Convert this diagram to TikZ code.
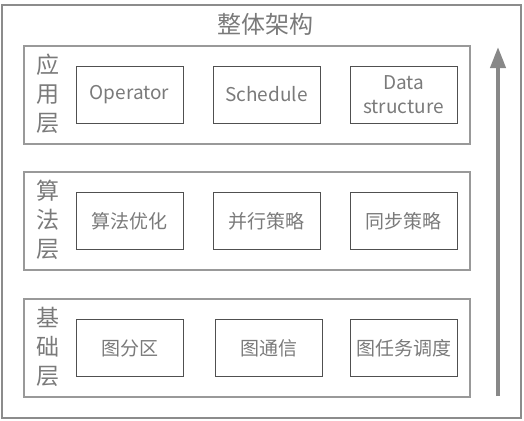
\documentclass[tikz,border=0pt]{standalone}
\usepackage{fontspec}
\setmainfont{Noto Sans CJK SC}
\usetikzlibrary{arrows.meta}
\definecolor{framegray}{HTML}{8C8C8C}
\definecolor{layergray}{HTML}{999999}
\definecolor{itemgray}{HTML}{505050}
\definecolor{textgray}{HTML}{7A7A7A}
\definecolor{arrowgray}{HTML}{888888}

\begin{document}
\begin{tikzpicture}[x=1pt,y=-1pt,
    layerbox/.style={draw=layergray,line width=1.6pt,minimum width=446pt,minimum height=98pt,inner sep=0pt},
    itembox/.style={draw=itemgray,line width=0.9pt,minimum width=107pt,minimum height=57pt,inner sep=0pt,
      font=\fontsize{19}{24}\selectfont,text=textgray,align=center},
    layertext/.style={font=\fontsize{23}{29}\selectfont,text=textgray,align=center,inner sep=0pt}]
            \useasboundingbox (0,0) rectangle (524,420);

            % outer frame and title
            \node[draw=framegray,line width=1.4pt,minimum width=519pt,minimum height=413pt,inner sep=0pt] (frame) at (261.5,211.5) {};
            \node[font=\fontsize{24}{28}\selectfont,text=textgray] (title) at (265,24) {整体架构};

            % layers
            \node[layerbox] (app) at (247,95) {};
            \node[layerbox] (algo) at (247,221) {};
            \node[layerbox] (base) at (247,348) {};

            \node[layertext] (applabel) at (48,94) {应\\用\\层};
            \node[layertext] (algolabel) at (48,220) {算\\法\\层};
            \node[layertext] (baselabel) at (48,347) {基\\础\\层};

            % application layer
            \node[itembox] (operator) at (129.5,94.5) {Operator};
            \node[itembox] (schedule) at (266.5,94.5) {Schedule};
            \node[itembox] (datastruct) at (403.5,94.5) {Data\\structure};

            % algorithm layer
            \node[itembox] (algoopt) at (129.5,221) {算法优化};
            \node[itembox] (parallel) at (266.5,221) {并行策略};
            \node[itembox] (sync) at (403.5,221) {同步策略};

            % base layer
            \node[itembox] (partition) at (129.5,348) {图分区};
            \node[itembox] (comm) at (268.5,348) {图通信};
            \node[itembox] (tasksched) at (403.5,348) {图任务调度};

            % upward arrow
            \coordinate (arrowbot) at (498,396);
            \coordinate (arrowtop) at (498,47);
            \draw[arrowgray,line width=4pt,-{Triangle[width=15pt,length=21pt]}] (arrowbot) -- (arrowtop);
        \end{tikzpicture}
\end{document}
